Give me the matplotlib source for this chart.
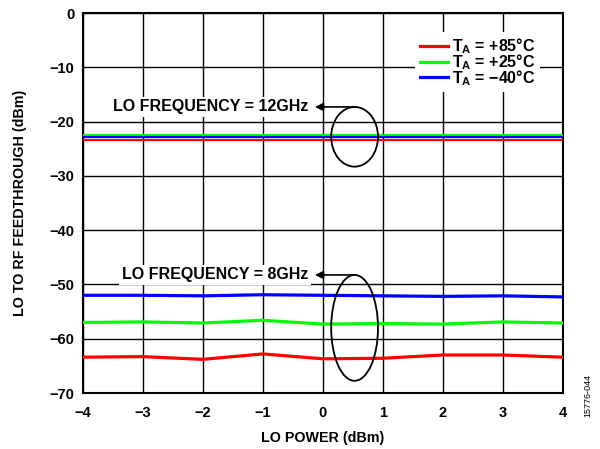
import numpy as np
import matplotlib.pyplot as plt
from matplotlib.patches import Ellipse

plt.rcParams["font.family"] = ["Liberation Sans", "DejaVu Sans"]
plt.rcParams["font.weight"] = "bold"
plt.rcParams["mathtext.fontset"] = "custom"
plt.rcParams["mathtext.rm"] = "Liberation Sans:bold"
plt.rcParams["mathtext.bf"] = "Liberation Sans:bold"

# -------- data --------
lo_power = [-4, -3, -2, -1, 0, 1, 2, 3, 4]

# LO = 12 GHz
f12_85 = [-23.4] * 9
f12_25 = [-22.4] * 9
f12_m40 = [-22.9] * 9

# LO = 8 GHz
f8_85 = [-63.4, -63.3, -63.8, -62.8, -63.7, -63.6, -63.0, -63.0, -63.4]
f8_25 = [-57.0, -56.9, -57.1, -56.6, -57.3, -57.2, -57.3, -56.9, -57.1]
f8_m40 = [-52.0, -52.0, -52.1, -51.9, -52.0, -52.1, -52.2, -52.1, -52.3]

labels = ["T$_\\mathrm{A}$ = +85°C", "T$_\\mathrm{A}$ = +25°C", "T$_\\mathrm{A}$ = \u221240°C"]
colors = ["#ff0000", "#00ff00", "#0000ff"]

fig = plt.figure(figsize=(6.0, 4.49), dpi=100)
ax = fig.add_axes([0.138, 0.1247, 0.8, 0.8463])

for ys, c, lab in zip([f8_85, f8_25, f8_m40], colors, labels):
    ax.plot(lo_power, ys, color=c, lw=2.3, label=lab, zorder=3)
for ys, c in zip([f12_85, f12_25, f12_m40], colors):
    ax.plot(lo_power, ys, color=c, lw=1.6, zorder=3)

ax.set_xlim(-4, 4)
ax.set_ylim(-70, 0)
ax.set_xticks(np.arange(-4, 5, 1))
ax.set_yticks(np.arange(-70, 1, 10))
ax.set_xticklabels([str(v).replace("-", "\u2212") for v in range(-4, 5)])
ax.set_yticklabels([str(v).replace("-", "\u2212") for v in range(-70, 1, 10)])
ax.tick_params(length=0, labelsize=10.5)
ax.tick_params(axis="x", pad=9)
ax.tick_params(axis="y", pad=6)
ax.grid(True, color="black", lw=1.0)
for s in ax.spines.values():
    s.set_linewidth(1.5)

ax.set_xlabel("LO POWER (dBm)", fontsize=10.3, fontweight="bold", labelpad=8)
ax.set_ylabel("LO TO RF FEEDTHROUGH (dBm)", fontsize=10.3, fontweight="bold", labelpad=16)

# annotations
for cy, h, ay, txt, tx in [(-22.8, 11, -17.3, "LO FREQUENCY = 12GHz", -3.5),
                           (-58.0, 19.5, -48.25, "LO FREQUENCY = 8GHz", -3.35)]:
    ax.add_patch(Ellipse((0.53, cy), 0.78, h, fill=False, color="black", lw=1.3, zorder=4))
    ax.annotate("", xy=(-0.13, ay), xytext=(0.53, ay),
                arrowprops=dict(arrowstyle="-|>", color="black", lw=1.2,
                                mutation_scale=12, shrinkA=0, shrinkB=0), zorder=5)
    ax.text(tx, ay, txt, fontsize=11.5, fontweight="bold", va="center", ha="left", zorder=5,
            bbox=dict(facecolor="white", edgecolor="none", pad=2))

leg = ax.legend(loc="upper right", bbox_to_anchor=(0.97, 0.972), frameon=True,
                fontsize=11.5, handlelength=1.75, handletextpad=0.3, labelspacing=-0.25,
                borderpad=0.3, fancybox=False)
leg.get_frame().set_edgecolor("none")
leg.get_frame().set_alpha(1)
for t in leg.get_texts():
    t.set_fontweight("bold")

fig.text(0.98, 0.12, "15776-044", rotation=90, fontsize=6.5, fontweight="normal",
         ha="center", va="center")

fig.savefig("out.png", dpi=100)
